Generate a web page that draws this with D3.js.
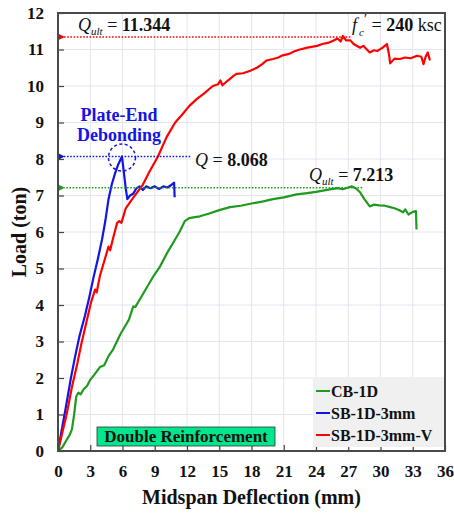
<!DOCTYPE html>
<html><head><meta charset="utf-8">
<script src="https://cdn.jsdelivr.net/npm/d3@7"></script>
<style>
body{margin:0;background:#fff;}
svg text{font-family:"Liberation Serif","Times New Roman",serif;}
</style></head>
<body><svg id="c" width="454" height="513"></svg>
<script>
const xTicks = [0,3,6,9,12,15,18,21,24,27,30,33,36];
const yTicks = [0,1,2,3,4,5,6,7,8,9,10,11,12];
const seriesNames = ["CB-1D","SB-1D-3mm","SB-1D-3mm-V"];
const seriesColors = ["#1f9a1f","#1414e6","#ff0000"];

const cb1d = [[0,0],[0.4,0.1],[0.8,0.3],[1.1,0.45],[1.3,0.6],[1.5,1.0],[1.7,1.5],[1.9,1.6],[2.1,1.55],[2.4,1.7],[2.7,1.78],[3.0,1.95],[3.4,2.1],[3.9,2.3],[4.3,2.35],[4.7,2.6],[5.1,2.77],[5.4,2.95],[5.8,3.2],[6.4,3.5],[6.6,3.6],[7.0,3.96],[7.2,3.95],[7.7,4.2],[8.3,4.5],[8.9,4.8],[9.5,5.06],[10.1,5.4],[10.7,5.7],[11.3,6.0],[11.8,6.3],[12.2,6.38],[12.6,6.4],[13.2,6.43],[14,6.5],[15,6.6],[16.0,6.68],[17,6.72],[18,6.78],[19.1,6.84],[20,6.9],[21,6.95],[22.2,7.03],[23,7.06],[24,7.1],[25.3,7.17],[26,7.2],[26.5,7.17],[27.0,7.22],[27.3,7.25],[27.7,7.2],[28.1,7.09],[28.5,6.9],[29.0,6.7],[29.4,6.75],[29.9,6.73],[30.4,6.72],[30.9,6.68],[31.3,6.65],[31.7,6.6],[32.1,6.54],[32.3,6.62],[32.6,6.48],[33.0,6.55],[33.3,6.57],[33.35,6.07]];
const sb1d3 = [[0,0],[0.3,0.5],[0.7,1.15],[1.2,2.0],[1.6,2.6],[2.0,3.15],[2.5,3.7],[2.9,4.2],[3.3,4.75],[3.7,5.25],[4.1,5.8],[4.4,6.3],[4.7,6.9],[5.0,7.3],[5.3,7.6],[5.6,7.85],[5.95,8.07],[6.1,7.7],[6.3,7.2],[6.45,6.9],[6.7,7.0],[7.0,7.05],[7.3,7.2],[7.6,7.25],[7.9,7.15],[8.2,7.25],[8.6,7.2],[9.0,7.25],[9.4,7.18],[9.8,7.25],[10.2,7.22],[10.5,7.28],[10.8,7.35],[10.85,6.95]];
const sb1d3v = [[0,0],[0.4,0.5],[0.8,1.0],[1.3,1.76],[1.8,2.4],[2.2,2.97],[2.7,3.6],[3.1,4.1],[3.45,4.42],[3.6,4.35],[3.9,4.8],[4.3,5.2],[4.7,5.6],[4.85,5.5],[5.1,5.8],[5.5,6.25],[5.7,6.3],[5.9,6.25],[6.3,6.65],[6.9,6.9],[7.4,7.1],[7.9,7.3],[8.5,7.65],[9.3,8.07],[10.1,8.6],[10.9,9.0],[11.5,9.2],[12.2,9.45],[12.9,9.64],[13.6,9.8],[14.4,10.0],[14.9,10.05],[15.1,10.15],[15.3,10.02],[15.8,10.15],[16.3,10.27],[16.6,10.33],[17.2,10.35],[17.9,10.42],[18.5,10.5],[19.0,10.6],[19.4,10.7],[20.0,10.74],[20.5,10.78],[20.9,10.84],[21.5,10.88],[22.0,10.95],[22.5,11.0],[23.2,11.05],[24.1,11.1],[24.6,11.15],[25.1,11.18],[25.6,11.24],[26.0,11.3],[26.3,11.22],[26.5,11.37],[26.8,11.25],[27.2,11.25],[27.5,11.15],[28.1,11.05],[28.4,11.1],[29.0,10.92],[29.4,10.98],[29.7,10.96],[30.2,11.05],[30.6,11.15],[30.8,10.85],[30.9,10.62],[31.3,10.75],[31.8,10.74],[32.3,10.78],[32.8,10.76],[33.4,10.83],[33.8,10.8],[34.0,10.6],[34.2,10.8],[34.4,10.92],[34.6,10.7]];
const series = [cb1d, sb1d3, sb1d3v];

// annotation values
const qUltV = 11.344, qUltVEnd = 27.2;
const qDeb = 8.068, qDebX = 5.95, qDebEnd = 12.3;
const qUltCB = 7.213, qUltCBEnd = 28.3;

const svg = d3.select("#c");
const M = {l:58, t:13, r:9, b:62};
const W = 454 - M.l - M.r, H = 513 - M.t - M.b;
const x = d3.scaleLinear().domain([0,36]).range([M.l, M.l+W]);
const y = d3.scaleLinear().domain([0,12]).range([M.t+H, M.t]);

const defs = svg.append("defs");
function marker(id,color){
  defs.append("marker").attr("id",id).attr("viewBox","0 0 10 10").attr("refX",1).attr("refY",5)
   .attr("markerWidth",5).attr("markerHeight",5).attr("orient","auto-start-reverse")
   .append("path").attr("d","M0,5L10,0L10,10Z").attr("fill",color);
}
marker("ar","#ff0000"); marker("ab","#1414e6"); marker("ag","#1f9a1f");

// grid
svg.append("g").selectAll("line").data(xTicks.slice(1,-1)).join("line")
  .attr("x1",d=>x(d)).attr("x2",d=>x(d)).attr("y1",y(0)).attr("y2",y(12))
  .attr("stroke","#e3e6ee").attr("stroke-width",1);
svg.append("g").selectAll("line").data(yTicks.slice(1,-1)).join("line")
  .attr("y1",d=>y(d)).attr("y2",d=>y(d)).attr("x1",x(0)).attr("x2",x(36))
  .attr("stroke","#e3e6ee").attr("stroke-width",1);

// axes
const xa = svg.append("g").attr("transform",`translate(0,${y(0)})`)
  .call(d3.axisBottom(x).tickValues(xTicks).tickSizeInner(-6).tickSizeOuter(0).tickPadding(14));
const ya = svg.append("g").attr("transform",`translate(${x(0)},0)`)
  .call(d3.axisLeft(y).tickValues(yTicks).tickSizeInner(-6).tickSizeOuter(0).tickPadding(14));
[xa,ya].forEach(a=>{
  a.select(".domain").remove();
  a.selectAll(".tick line").attr("stroke","#444").attr("stroke-width",1.2);
  a.selectAll("text").attr("font-size",17).attr("font-weight","bold").attr("fill","#111")
   .style("font-family",'"Liberation Serif","Times New Roman",serif');
});

// lines
const line = d3.line().x(d=>x(d[0])).y(d=>y(d[1]));
series.forEach((s,i)=>{
  svg.append("path").datum(s).attr("d",line).attr("fill","none")
   .attr("stroke",seriesColors[i]).attr("stroke-width",2.2).attr("stroke-linejoin","round");
});

// dotted annotation lines
function dotted(v,xEnd,color,mk){
  svg.append("line").attr("x1",x(xEnd)).attr("x2",x(0)+6).attr("y1",y(v)).attr("y2",y(v))
   .attr("stroke",color).attr("stroke-width",1.6).attr("stroke-dasharray","1.6,1.6")
   .attr("marker-end",`url(#${mk})`);
}
dotted(qUltV,qUltVEnd,"#ff0000","ar");
dotted(qDeb,qDebEnd,"#1414e6","ab");
dotted(qUltCB,qUltCBEnd,"#1f9a1f","ag");

// circle
svg.append("circle").attr("cx",x(qDebX)).attr("cy",y(qDeb)+1).attr("r",13.5)
  .attr("fill","none").attr("stroke","#1414e6").attr("stroke-width",1.5).attr("stroke-dasharray","3,2.5");

// frame
svg.append("rect").attr("x",x(0)).attr("y",y(12)).attr("width",W).attr("height",H)
  .attr("fill","none").attr("stroke","#4a4a4a").attr("stroke-width",2);

// texts
function qLabel(xp,yp,sub,val){
  const t = svg.append("text").attr("x",xp).attr("y",yp).attr("font-size",18).attr("fill","#111");
  t.append("tspan").text("Q").attr("font-style","italic");
  if(sub) t.append("tspan").text(sub).attr("font-style","italic").attr("font-size",11).attr("dy",4);
  t.append("tspan").text(" = ").attr("dy",sub?-4:0);
  t.append("tspan").text(val).attr("font-weight","bold");
}
qLabel(78,31,"ult",qUltV.toFixed(3));
qLabel(195,166,null,qDeb.toFixed(3));
qLabel(309,181,"ult",qUltCB.toFixed(3));

const fc = svg.append("text").attr("x",352).attr("y",31).attr("font-size",18).attr("fill","#111");
fc.append("tspan").text("f").attr("font-style","italic");
fc.append("tspan").text("c").attr("font-style","italic").attr("font-size",11).attr("dx",2).attr("dy",5);
fc.append("tspan").text("′").attr("font-size",14).attr("dy",-12);
fc.append("tspan").text(" = ").attr("dy",7);
fc.append("tspan").text("240").attr("font-weight","bold");
fc.append("tspan").text(" ksc");

svg.append("text").attr("x",119).attr("y",121).attr("text-anchor","middle").attr("font-size",18)
  .attr("font-weight","bold").attr("fill","#1414e6").text("Plate-End");
svg.append("text").attr("x",119).attr("y",141).attr("text-anchor","middle").attr("font-size",18)
  .attr("font-weight","bold").attr("fill","#1414e6").text("Debonding");

// Double Reinforcement box
svg.append("rect").attr("x",97).attr("y",427).attr("width",178).attr("height",19)
  .attr("fill","#00e68c").attr("stroke","#333").attr("stroke-width",0.8);
svg.append("text").attr("x",186).attr("y",442).attr("text-anchor","middle").attr("font-size",17)
  .attr("font-weight","bold").attr("fill","#111").text("Double Reinforcement");

// legend
svg.append("rect").attr("x",313).attr("y",377).attr("width",131).attr("height",70).attr("fill","#f0f0f0");
seriesNames.forEach((n,i)=>{
  const yy = 391 + i*22;
  svg.append("line").attr("x1",316).attr("x2",330).attr("y1",yy).attr("y2",yy)
    .attr("stroke",seriesColors[i]).attr("stroke-width",2);
  svg.append("text").attr("x",331).attr("y",yy+5.5).attr("font-size",16).attr("font-weight","bold")
    .attr("fill","#111").text(n);
});

// axis titles
svg.append("text").attr("x",x(18)).attr("y",504).attr("text-anchor","middle").attr("font-size",20)
  .attr("font-weight","bold").attr("fill","#111").text("Midspan Deflection (mm)");
svg.append("text").attr("transform",`translate(26,${y(6)}) rotate(-90)`).attr("text-anchor","middle")
  .attr("font-size",20).attr("font-weight","bold").attr("fill","#111").text("Load (ton)");
</script></body></html>
